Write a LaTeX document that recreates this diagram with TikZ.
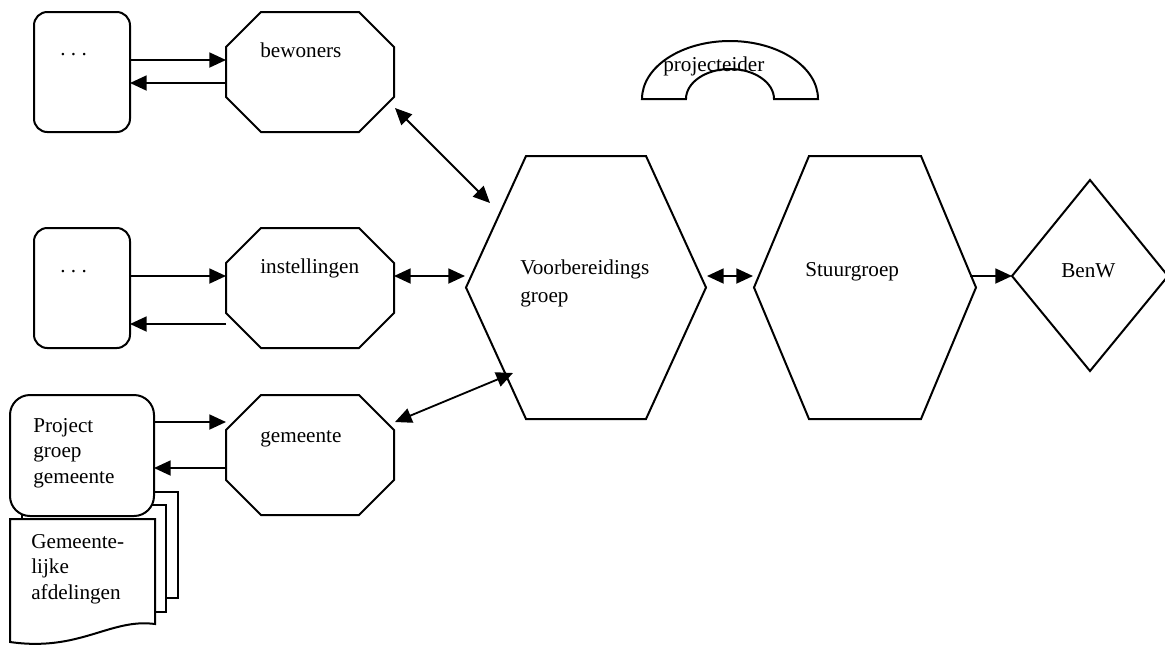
\documentclass[tikz,border=0pt]{standalone}
\usepackage{fontspec}
\setmainfont{Liberation Serif}
\usetikzlibrary{arrows.meta}
% octagon from (x1,y1) to (x2,y2), corners cut by 35
\def\octagon(#1,#2)(#3,#4){\draw[outline] (#1+35,#2) -- (#3-35,#2) -- (#3,#2+35) -- (#3,#4-35) -- (#3-35,#4) -- (#1+35,#4) -- (#1,#4-35) -- (#1,#2+35) -- cycle;}
% hexagon from (x1,y1) to (x2,y2), top edge inset by #5
\def\hexagon(#1,#2)(#3,#4)(#5){\draw[outline] (#1+#5,#2) -- (#3-#5,#2) -- (#3,{(#2+#4)/2}) -- (#3-#5,#4) -- (#1+#5,#4) -- (#1,{(#2+#4)/2}) -- cycle;}

\begin{document}
\begin{tikzpicture}[x=0.6pt,y=-0.6pt,
		outline/.style={line width=1.2pt,fill=white},
		arr/.style={line width=1.1pt,-{Triangle[length=10pt,width=9pt]}},
		both/.style={line width=1.1pt,{Triangle[length=10pt,width=9pt]}-{Triangle[length=10pt,width=9pt]}},
		txt/.style={inner sep=0pt,anchor=base west,align=left,font=\fontsize{12.7}{15.2}\selectfont}]
		\useasboundingbox (0,0) rectangle (1165,646);
		%%%%% left column %%%%%
		\draw[outline,rounded corners=8pt] (34,12) rectangle (130,132);
		\node[txt] (dots1) at (60,55) {.\ .\ .};
		\draw[outline,rounded corners=8pt] (34,228) rectangle (130,348);
		\node[txt] (dots2) at (60,272) {.\ .\ .};
		
		% pages behind the project box
		\draw[outline] (34,492) rectangle (178,598);
		\draw[outline] (22,505) rectangle (166,612);
		\draw[outline] (10,519) -- (155,519) -- (155,624) .. controls (110,618) and (80,652) .. (10,642) -- cycle;
		\node[txt,anchor=north west] (afd) at (31,534) {Gemeente-\\lijke\\afdelingen};
		
		\draw[outline,rounded corners=12pt] (10,395) rectangle (154,516);
		\node[txt,anchor=north west] (pgg) at (33,418) {Project\\groep\\gemeente};
		
		%%%%% octagons %%%%%
		\octagon(226,12)(394,132)
		\node[txt] (bew) at (260,57) {bewoners};
		\octagon(226,228)(394,348)
		\node[txt] (inst) at (260,273) {instellingen};
		\octagon(226,395)(394,515)
		\node[txt] (gem) at (260,442) {gemeente};
		
		%%%%% groups %%%%%
		\hexagon(466,156)(706,419)(60)
		\node[txt,anchor=north west] (vbg) at (520,259) {Voorbereidings\\[1.6pt]groep};
		\hexagon(754,156)(976,419)(55)
		\node[txt] (stuur) at (805,276) {Stuurgroep};
		\draw[outline] (1012,276) -- (1090,180) -- (1168,276) -- (1090,371) -- cycle;
		\node[txt] (benw) at (1061,277) {BenW};
		
		% projecteider
		\draw[outline] (642,99) arc[start angle=180,end angle=360,x radius=88,y radius=58] -- (774,99) arc[start angle=0,end angle=-180,x radius=44,y radius=30] -- cycle;
		\node[txt] (proj) at (663,71) {projecteider};
		
		%%%%% connectors %%%%%
		\coordinate (b1-r) at (130,60);  \coordinate (bew-l) at (226,60);
		\coordinate (b1-rr) at (130,83); \coordinate (bew-ll) at (226,83);
		\coordinate (b2-r) at (130,276);  \coordinate (inst-l) at (226,276);
		\coordinate (b2-rr) at (130,324); \coordinate (inst-ll) at (226,324);
		\coordinate (pgg-r) at (154,422);  \coordinate (gem-l) at (226,422);
		\coordinate (pgg-rr) at (154,468); \coordinate (gem-ll) at (226,468);
		\coordinate (bew-se) at (395,108); \coordinate (vbg-nw) at (490,203);
		\coordinate (inst-r) at (394,276); \coordinate (vbg-w) at (465,276);
		\coordinate (gem-ne) at (395,422); \coordinate (vbg-sw) at (513,373);
		\coordinate (vbg-e) at (707,276);  \coordinate (stuur-w) at (753,276);
		\coordinate (stuur-e) at (970,276); \coordinate (benw-w) at (1012,276);
		
		\draw[arr] (b1-r) -- (bew-l);
		\draw[arr] (bew-ll) -- (b1-rr);
		\draw[arr] (b2-r) -- (inst-l);
		\draw[arr] (inst-ll) -- (b2-rr);
		\draw[arr] (pgg-r) -- (gem-l);
		\draw[arr] (gem-ll) -- (pgg-rr);
		\draw[both] (bew-se) -- (vbg-nw);
		\draw[both] (inst-r) -- (vbg-w);
		\draw[both] (gem-ne) -- (vbg-sw);
		\draw[both] (vbg-e) -- (stuur-w);
		\draw[arr] (stuur-e) -- (benw-w);
	\end{tikzpicture}
\end{document}
